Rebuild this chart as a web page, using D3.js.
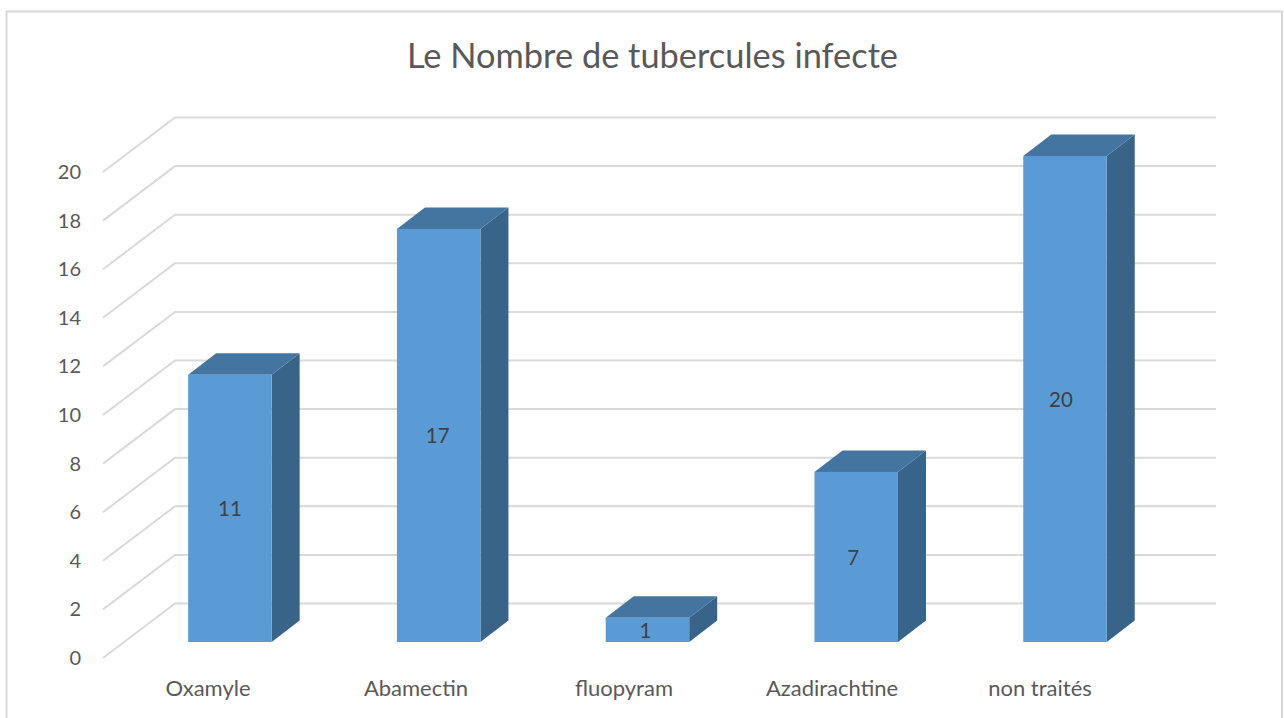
<!DOCTYPE html>
<html><head><meta charset="utf-8">
<script src="https://cdn.jsdelivr.net/npm/d3@7"></script>
<style>html,body{margin:0;padding:0;background:#fff}svg{display:block}text{font-family:Lato,"Open Sans",sans-serif}</style>
</head><body><svg id="c" width="1284" height="718"></svg>
<script>
const categories = ["Oxamyle","Abamectin","fluopyram","Azadirachtine","non traités"];
const values = [11,17,1,7,20];
const tickValues = [0,2,4,6,8,10,12,14,16,18,20];
const titleText = "Le Nombre de tubercules infecte";

const svg = d3.select("#c");
// frame
svg.append("path").attr("d","M6.5,718V11.5H1282V718").attr("fill","none").attr("stroke","#d9d9d9").attr("stroke-width",2);
svg.append("text").attr("x",652.5).attr("y",68).attr("text-anchor","middle").attr("font-size",34.4).attr("fill","#595959").text(titleText);

const y = d3.scaleLinear().domain([0,20]).range([658,172]);
const xLabel = d3.scalePoint().domain(categories).range([208,1040]);
const xBar = d3.scalePoint().domain(categories).range([229.9,1065]);
const xValue = d3.scalePoint().domain(categories).range([230,1061]);
const barW = 83.5, sideDx = 28, sideDy = 21.5;
const wallDx = 72, wallDy = 54.5, barDy = 16;
const gridRight = 1216;

// grid
const g = svg.append("g").attr("fill","none").attr("stroke","#d9d9d9").attr("stroke-width",2);
g.selectAll("path").data(tickValues).join("path")
 .attr("d",d=>`M103,${y(d)}L${103+wallDx},${y(d)-wallDy}H${gridRight}`);
// y tick labels
svg.append("g").selectAll("text").data(tickValues).join("text")
 .attr("x",81).attr("y",d=>y(d)+7).attr("text-anchor","end").attr("font-size",20).attr("fill","#595959").text(d=>d);

// bars
const bx = c => xBar(c)-barW/2;
const bars = svg.append("g").selectAll("g").data(categories.map((c,i)=>({c,v:values[i]}))).join("g");
const topY = d => y(d.v)-barDy, botY = y(0)-barDy;
bars.append("path").attr("fill","#38648a").attr("d",d=>{const l=bx(d.c)+barW;
  return `M${l},${topY(d)}L${l+sideDx},${topY(d)-sideDy}V${botY-sideDy}L${l},${botY}Z`;});
bars.append("path").attr("fill","#4475a1").attr("d",d=>{const l=bx(d.c);
  return `M${l},${topY(d)}L${l+sideDx},${topY(d)-sideDy}H${l+barW+sideDx}L${l+barW},${topY(d)}Z`;});
bars.append("rect").attr("fill","#5b9bd5").attr("x",d=>bx(d.c)).attr("width",barW)
  .attr("y",topY).attr("height",d=>botY-topY(d));
bars.append("text").attr("x",d=>xValue(d.c)).attr("y",d=>(topY(d)+botY)/2+8)
  .attr("text-anchor","middle").attr("font-size",20.5).attr("fill","#404040").text(d=>d.v);

// category labels
svg.append("g").selectAll("text").data(categories).join("text")
 .attr("x",c=>xLabel(c)).attr("y",696).attr("text-anchor","middle").attr("font-size",22).attr("fill","#595959").text(c=>c);
</script></body></html>
